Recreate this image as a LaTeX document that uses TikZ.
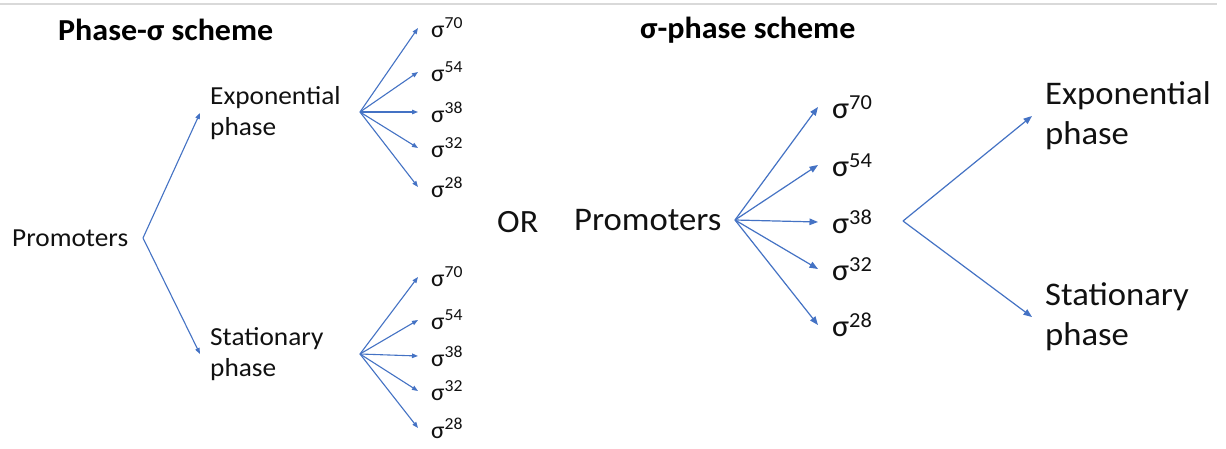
\documentclass[tikz,border=0pt]{standalone}
\usepackage{fontspec}
\setmainfont{Carlito}[FakeStretch=1.05]
\usetikzlibrary{arrows.meta}
\definecolor{arrblue}{HTML}{4472C4}
\definecolor{txt}{HTML}{111111}
\tikzset{
  arrL/.style={draw=arrblue, line width=1.1pt, -{Triangle[length=6pt,width=4.5pt]}},
  arrR/.style={draw=arrblue, line width=1.2pt, -{Triangle[length=8.5pt,width=6.5pt]}},
  lblL/.style={anchor=west, text=txt, font=\fontsize{26}{31}\selectfont, align=left, inner ysep=0pt},
  sigL/.style={anchor=west, text=txt, font=\fontsize{24}{28}\selectfont, inner ysep=0pt, inner xsep=13pt},
  lblR/.style={anchor=west, text=txt, font=\fontsize{33}{40}\selectfont, align=left, inner ysep=0pt},
  sigR/.style={anchor=west, text=txt, font=\fontsize{30.5}{38}\selectfont, inner ysep=0pt, inner xsep=12pt},
  ttl/.style={anchor=west, text=black, font=\bfseries\fontsize{30.5}{34}\selectfont, inner sep=0pt},
}
\newcommand{\sg}[1]{σ\textsuperscript{#1}}
\begin{document}
\begin{tikzpicture}[x=1pt,y=-1pt]
\useasboundingbox (0,0) rectangle (1226,448);
\fill[white] (0,0) rectangle (1226,448);
\draw[draw=black!15, line width=1.2pt] (0,4) -- (1217,4);
% ---------- left: Phase-sigma scheme
\node[ttl] (t1) at (58,30) {Phase-σ scheme};
\node[lblL, inner xsep=0pt] (pL) at (12,238) {Promoters};
\coordinate (jL) at (143,238);
\node[lblL, inner xsep=10pt] (exp) at (200,113) {Exponential\\phase};
\node[lblL, inner xsep=10pt] (sta) at (200,354) {Stationary\\phase};
\draw[arrL] (jL) -- (exp.west);
\draw[arrL] (jL) -- (sta.west);
\coordinate (fe) at (360,112);
\coordinate (fs) at (360,354);
\foreach \n/\y/\s in {1/28/70,2/72/54,3/112/38,4/148/32,5/187/28}{
  \node[sigL] (e\n) at (418,\y) {\sg{\s}};
  \draw[arrL] (fe) -- (e\n.west);
}
\foreach \n/\y/\s in {1/277/70,2/320/54,3/356/38,4/391/32,5/428/28}{
  \node[sigL] (s\n) at (418,\y) {\sg{\s}};
  \draw[arrL] (fs) -- (s\n.west);
}
\node[anchor=west, text=txt, font=\fontsize{32.5}{36}\selectfont, inner sep=0pt] (or) at (497,222) {OR};
% ---------- right: sigma-phase scheme
\node[ttl] (t2) at (640,30) {σ-phase scheme};
\node[lblR, inner xsep=0pt] (pR) at (574,220) {Promoters};
\coordinate (jR) at (735,220);
\foreach \n/\y/\s in {1/107/70,2/165/54,3/222/38,4/269/32,5/325/28}{
  \node[sigR, inner xsep=14pt] (r\n) at (818,\y) {\sg{\s}};
  \draw[arrR] (jR) -- (r\n.west);
}
\coordinate (jR2) at (903,221);
\node[lblR, inner xsep=13pt] (expR) at (1032,116) {Exponential\\phase};
\node[lblR, inner xsep=13pt] (staR) at (1032,317) {Stationary\\phase};
\draw[arrR] (jR2) -- (expR.west);
\draw[arrR] (jR2) -- (staR.west);
\end{tikzpicture}
\end{document}
